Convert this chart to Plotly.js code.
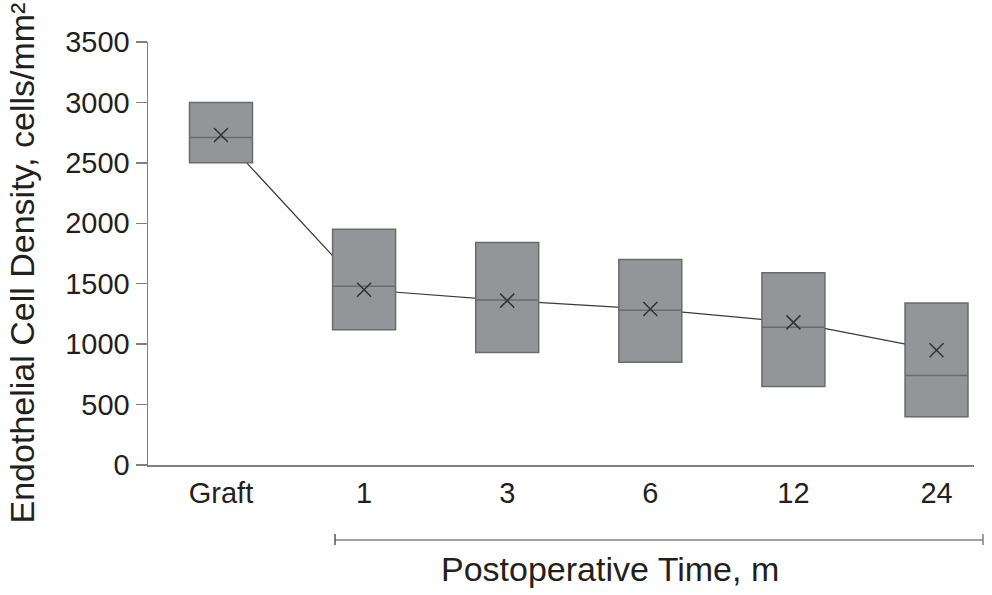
<!DOCTYPE html>
<html>
<head>
<meta charset="utf-8">
<script src="https://cdn.plot.ly/plotly-3.0.1.min.js"></script>
<style>html,body{margin:0;padding:0;background:#fff;}#chart{width:992px;height:595px;}</style>
</head>
<body>
<div id="chart"></div>
<script>
// Data
var categories = ["Graft", "1", "3", "6", "12", "24"];
var q1Values     = [2500, 1120, 930, 850, 650, 400];
var q3Values     = [3000, 1950, 1840, 1700, 1590, 1340];
var medianValues = [2710, 1480, 1365, 1280, 1140, 740];
var meanValues   = [2730, 1450, 1360, 1290, 1180, 950];
var yTickValues  = [0, 500, 1000, 1500, 2000, 2500, 3000, 3500];

var FONT = "Liberation Sans, Arial, sans-serif";
var TXT = "#231f20";
var AX = "#808080";

var xr = [-0.51, 5.262];
var yr = [0, 3500];

var traces = [
  { // connecting line of means (drawn underneath boxes)
    type: "scatter", mode: "lines", x: categories, y: meanValues,
    line: {color: "#3a3a3a", width: 1.2}, xaxis: "x", yaxis: "y",
    hoverinfo: "skip", showlegend: false
  },
  { // boxes (no whiskers)
    type: "box", x: categories, q1: q1Values, median: medianValues, q3: q3Values,
    lowerfence: q1Values, upperfence: q3Values,
    width: 0.44, whiskerwidth: 0,
    fillcolor: "#939598", line: {color: "#6a6b6e", width: 1.5},
    xaxis: "x2", yaxis: "y2", showlegend: false, boxpoints: false
  },
  { // mean markers
    type: "scatter", mode: "markers", x: categories, y: meanValues,
    marker: {symbol: "x-thin", size: 14, line: {color: "#333333", width: 1.5}, color: "#333333"},
    xaxis: "x3", yaxis: "y3", showlegend: false
  }
];

var hiddenX = {type: "category", categoryorder: "array", categoryarray: categories, range: xr, visible: false, fixedrange: true};
var hiddenY = {range: yr, visible: false, fixedrange: true};

var layout = {
  width: 992, height: 595,
  margin: {l: 148, r: 18, t: 42, b: 130},
  paper_bgcolor: "#ffffff", plot_bgcolor: "rgba(0,0,0,0)",
  font: {family: FONT, color: TXT},
  showlegend: false,
  xaxis: {
    type: "category", categoryorder: "array", categoryarray: categories,
    range: xr, showline: true, linecolor: AX, linewidth: 1.5,
    ticks: "", showgrid: false, zeroline: false,
    tickfont: {family: FONT, size: 29, color: TXT},
    ticklabelstandoff: 2, fixedrange: true
  },
  yaxis: {
    range: yr, tickvals: yTickValues, showline: true, linecolor: AX, linewidth: 1.5,
    ticks: "outside", ticklen: 11, tickwidth: 1.5, tickcolor: AX,
    showgrid: false, zeroline: false,
    tickfont: {family: FONT, size: 29, color: TXT}, fixedrange: true
  },
  xaxis2: Object.assign({overlaying: "x", anchor: "y2"}, hiddenX),
  yaxis2: Object.assign({overlaying: "y", anchor: "x2"}, hiddenY),
  xaxis3: Object.assign({overlaying: "x", anchor: "y3"}, hiddenX),
  yaxis3: Object.assign({overlaying: "y", anchor: "x3"}, hiddenY),
  shapes: [
    {type: "line", xref: "paper", yref: "paper", x0: 0.2264, x1: 1.0109, y0: -0.1773, y1: -0.1773, line: {color: AX, width: 1.5}},
    {type: "line", xref: "paper", yref: "paper", x0: 0.2264, x1: 0.2264, y0: -0.163, y1: -0.189, line: {color: "#555555", width: 1.5}},
    {type: "line", xref: "paper", yref: "paper", x0: 1.0109, x1: 1.0109, y0: -0.163, y1: -0.189, line: {color: AX, width: 1.5}}
  ],
  annotations: [
    {text: "Endothelial Cell Density, cells/mm²", textangle: -90, xref: "paper", yref: "paper",
     x: -0.152, y: 0.4775, xanchor: "center", yanchor: "middle", showarrow: false,
     font: {family: FONT, size: 34, color: TXT}},
    {text: "Postoperative Time, m", xref: "paper", yref: "paper",
     x: 0.559, y: -0.245, xanchor: "center", yanchor: "middle", showarrow: false,
     font: {family: FONT, size: 34, color: TXT}}
  ]
};

Plotly.newPlot("chart", traces, layout, {displayModeBar: false, staticPlot: true});
</script>
</body>
</html>
